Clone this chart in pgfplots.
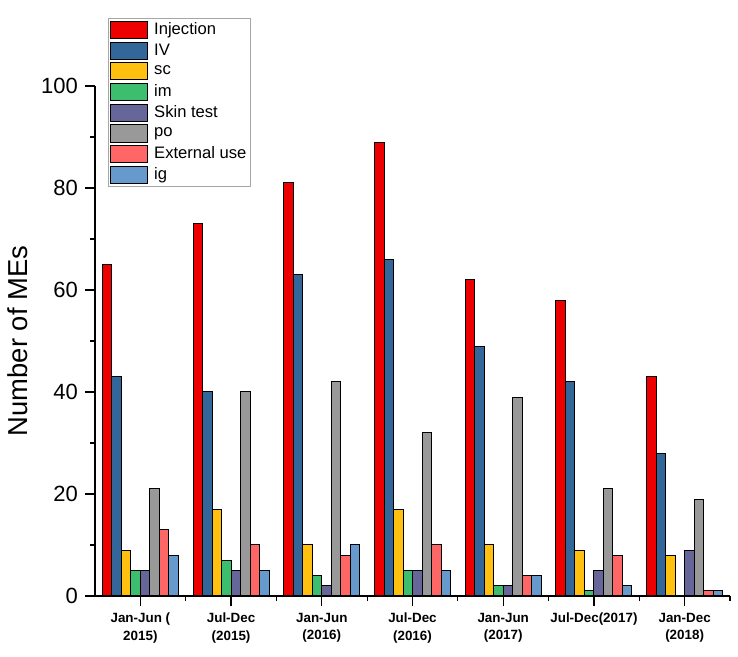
\documentclass[border=0pt]{standalone}
\usepackage{pgfplots}
\pgfplotsset{compat=1.18}
\usepackage{fontspec}
\setmainfont{Liberation Sans}

\definecolor{cInj}{RGB}{236,0,0}
\definecolor{cIV}{RGB}{51,102,153}
\definecolor{cSC}{RGB}{255,192,15}
\definecolor{cIM}{RGB}{60,190,110}
\definecolor{cSkin}{RGB}{102,102,153}
\definecolor{cPO}{RGB}{153,153,153}
\definecolor{cExt}{RGB}{255,102,102}
\definecolor{cIG}{RGB}{102,153,204}

\begin{document}
\begin{tikzpicture}
% page frame, in pt (1 px of the reference = 0.5pt)
\path (-47.5pt,-30.5pt) rectangle (321.5pt,298pt);
\begin{axis}[
  at={(0,0)}, anchor=south west,
  scale only axis, width=317.5pt, height=255pt,
  ybar=0pt, bar width=4.75pt,
  xmin=-0.5, xmax=6.5, ymin=0, ymax=100,
  axis x line=bottom, axis y line=left,
  axis line style={-, line width=0.6pt},
  tick align=outside,
  major tick length=5pt, minor tick length=2.5pt,
  every tick/.style={black, line width=0.6pt},
  xtick={0,...,6},
  minor xtick={0.5,1.5,...,6.5},
  xticklabels={{Jan-Jun (\\2015)},{Jul-Dec\\(2015)},{Jan-Jun\\(2016)},{Jul-Dec\\(2016)},{Jan-Jun\\(2017)},{Jul-Dec(2017)},{Jan-Dec\\(2018)}},
  xticklabel style={font=\bfseries\fontsize{6.7}{8.7}\selectfont, align=center},
  ytick={0,20,...,100}, minor y tick num=1,
  yticklabel style={font=\fontsize{11}{13}\selectfont},
  /pgf/number format/assume math mode=true,
  ylabel={Number of MEs},
  ylabel style={font=\fontsize{13.7}{16}\selectfont},
  every axis plot/.append style={draw=black, line width=0.5pt},
  legend image code/.code={\draw[#1] (0pt,-4.3pt) rectangle (18.5pt,4.3pt); \path (20.5pt,0pt);},
  legend style={at={(axis description cs:0.02,1.133)}, anchor=north west,
    draw=gray!70, line width=0.5pt, inner sep=1pt, row sep=1pt,
    font=\fontsize{8.3}{10}\selectfont,
    nodes={inner sep=1pt}},
  legend cell align=left,
]
\addplot[fill=cInj] coordinates {(0,65) (1,73) (2,81) (3,89) (4,62) (5,58) (6,43)};
\addlegendentry{Injection}
\addplot[fill=cIV] coordinates {(0,43) (1,40) (2,63) (3,66) (4,49) (5,42) (6,28)};
\addlegendentry{IV}
\addplot[fill=cSC] coordinates {(0,9) (1,17) (2,10) (3,17) (4,10) (5,9) (6,8)};
\addlegendentry{sc}
\addplot[fill=cIM] coordinates {(0,5) (1,7) (2,4) (3,5) (4,2) (5,1) (6,0)};
\addlegendentry{im}
\addplot[fill=cSkin] coordinates {(0,5) (1,5) (2,2) (3,5) (4,2) (5,5) (6,9)};
\addlegendentry{Skin test}
\addplot[fill=cPO] coordinates {(0,21) (1,40) (2,42) (3,32) (4,39) (5,21) (6,19)};
\addlegendentry{po}
\addplot[fill=cExt] coordinates {(0,13) (1,10) (2,8) (3,10) (4,4) (5,8) (6,1)};
\addlegendentry{External use}
\addplot[fill=cIG] coordinates {(0,8) (1,5) (2,10) (3,5) (4,4) (5,2) (6,1)};
\addlegendentry{ig}
\end{axis}
\end{tikzpicture}
\end{document}
